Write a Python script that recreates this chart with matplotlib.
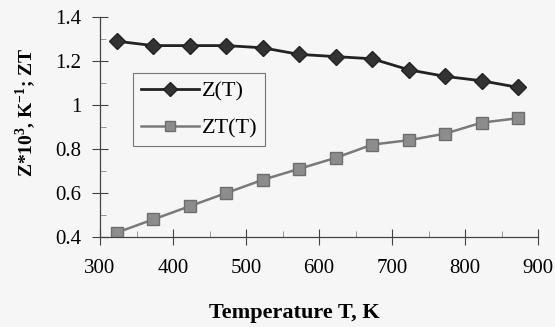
import matplotlib
matplotlib.use("Agg")
import matplotlib.pyplot as plt
from matplotlib.ticker import MultipleLocator

T = [323, 373, 423, 473, 523, 573, 623, 673, 723, 773, 823, 873]
Z = [1.29, 1.27, 1.27, 1.27, 1.26, 1.23, 1.22, 1.21, 1.16, 1.13, 1.11, 1.08]
ZT = [0.42, 0.48, 0.54, 0.60, 0.66, 0.71, 0.76, 0.82, 0.84, 0.87, 0.92, 0.94]
xticks = [300, 400, 500, 600, 700, 800, 900]
yticks = [0.4, 0.6, 0.8, 1.0, 1.2, 1.4]
yticklabels = ["0.4", "0.6", "0.8", "1", "1.2", "1.4"]

plt.rcParams['font.family'] = ['Liberation Serif', 'DejaVu Serif']
plt.rcParams['mathtext.fontset'] = 'custom'
plt.rcParams['mathtext.rm'] = 'Liberation Serif'
plt.rcParams['mathtext.bf'] = 'Liberation Serif:bold'
bg = '#f6f6f6'
fig = plt.figure(figsize=(5.55, 3.27), dpi=100, facecolor=bg)
ax = fig.add_axes([100/555, 1-237/327, 438/555, 220/327], facecolor=bg)

ax.plot(T, Z, color='#222222', lw=2.0, marker='D', ms=8.5, mfc='#333333', mec='#222222', label='Z(T)')
ax.plot(T, ZT, color='#7a7a7a', lw=1.8, marker='s', ms=8, mfc='#8c8c8c', mec='#6e6e6e', label='ZT(T)')

ax.set_xlim(300, 900)
ax.set_ylim(0.4, 1.4)
ax.set_xticks(xticks)
ax.set_yticks(yticks)
ax.set_yticklabels(yticklabels)
ax.xaxis.set_minor_locator(MultipleLocator(50))
ax.yaxis.set_minor_locator(MultipleLocator(0.1))
ax.tick_params(axis='both', which='major', direction='inout', length=11, width=0.8, labelsize=15, color='#444444')
ax.tick_params(axis='both', which='minor', direction='in', length=4, width=0.6, color='#888888')
ax.tick_params(axis='x', which='major', pad=10)
ax.tick_params(axis='y', which='major', pad=8)
for s in ['top', 'right']:
    ax.spines[s].set_visible(False)
for s in ['left', 'bottom']:
    ax.spines[s].set_color('#444444')
    ax.spines[s].set_linewidth(0.9)

ax.set_xlabel('Temperature T, K', fontsize=16, fontweight='bold')
ax.xaxis.set_label_coords((294-100)/438, (237-313)/220)
ax.set_ylabel(r'Z*10$^{\mathbf{3}}$, K$^{\mathbf{-1}}$; ZT', fontsize=14, fontweight='bold')
ax.yaxis.set_label_coords((26-100)/438, (237-112)/220)
ax.xaxis.label.set_va('center')
ax.yaxis.label.set_va('center')

leg = ax.legend(loc='upper left', bbox_to_anchor=(33/438, 1-56/220), fontsize=16,
                frameon=True, fancybox=False, edgecolor='#555555', facecolor=bg,
                handlelength=2.6, borderpad=0.35, labelspacing=0.75, handletextpad=0.15,
                borderaxespad=0, markerscale=0.85)
leg.get_frame().set_linewidth(0.8)

fig.savefig('out.png', dpi=100, facecolor=bg)
